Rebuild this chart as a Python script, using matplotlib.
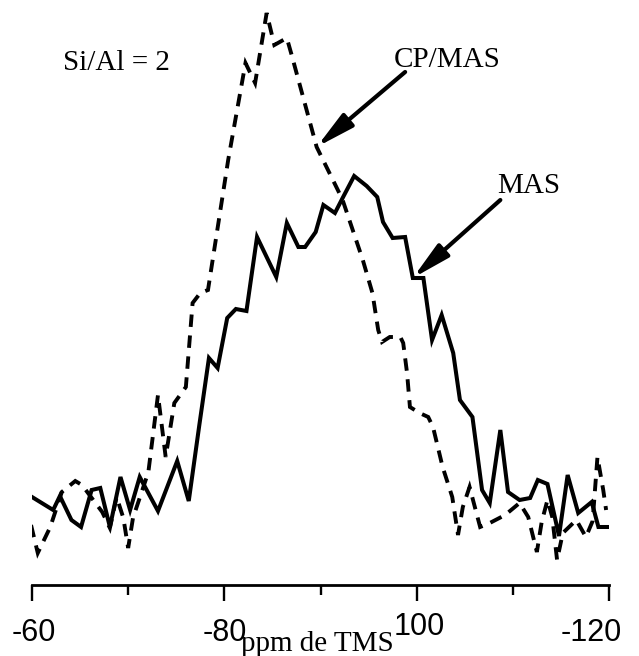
import numpy as np
import matplotlib
matplotlib.use('Agg')
import matplotlib.pyplot as plt
from matplotlib.transforms import ScaledTranslation

#######################################################
# 29Si NMR spectra, Si/Al = 2 (arbitrary units)
# MAS spectrum (solid line)
MAS_ppm = [-60.0, -62.2, -62.9, -64.1, -65.1, -66.2, -67.1, -68.1, -69.2, -70.2,
           -71.2, -73.1, -75.1, -76.3, -77.4, -78.4, -79.3, -80.3, -81.2, -82.3,
           -83.4, -85.4, -86.5, -87.7, -88.4, -89.5, -90.3, -91.5, -92.3, -93.5,
           -94.8, -95.9, -96.5, -97.5, -98.8, -99.6, -100.7, -101.6, -102.6, -103.8,
           -104.5, -105.8, -106.8, -107.6, -108.7, -109.5, -110.7, -111.8, -112.6, -113.6,
           -114.8, -115.7, -116.8, -118.2, -118.9, -119.8]
MAS_int = [88, 75, 89, 65, 58, 95, 97, 58, 108, 75,
           108, 74, 124, 84, 160, 227, 217, 267, 276, 274,
           348, 308, 362, 338, 338, 353, 380, 372, 387, 409,
           399, 388, 363, 347, 348, 307, 307, 245, 270, 232,
           185, 168, 95, 82, 155, 93, 85, 87, 105, 101,
           49, 110, 72, 83, 58, 58]

# CP/MAS spectrum (dashed line)
CP_ppm = [-59.9, -60.6, -61.9, -63.1, -64.5, -65.2, -67.3, -68.1, -68.8, -69.5,
          -70.0, -70.5, -72.1, -73.1, -73.9, -74.8, -76.0, -76.7, -77.5, -78.3,
          -80.4, -82.2, -83.2, -84.4, -85.2, -86.5, -87.0, -89.6, -91.8, -92.3,
          -94.4, -95.4, -96.0, -96.4, -97.2, -98.3, -98.6, -99.0, -99.3, -100.3,
          -101.2, -101.7, -102.7, -103.7, -104.3, -104.8, -105.5, -106.6, -107.6, -109.2,
          -110.7, -111.6, -112.5, -113.0, -113.6, -114.1, -114.6, -115.2, -116.6, -117.6,
          -118.3, -118.8, -119.4, -119.7]
CP_int = [60, 32, 58, 93, 104, 100, 73, 57, 88, 67,
          37, 67, 113, 190, 128, 182, 198, 282, 292, 295,
          425, 522, 502, 572, 540, 547, 530, 438, 395, 385,
          325, 292, 255, 243, 248, 248, 242, 212, 178, 172,
          168, 158, 118, 88, 50, 78, 98, 58, 62, 70,
          82, 68, 33, 63, 85, 68, 25, 52, 65, 48,
          64, 128, 95, 75]

Major_Ticks  = [-60, -80, -100, -120]
Major_Labels = ['-60', '-80', '100', '-120']
Minor_Ticks  = [-70, -90, -110]
#######################################################

SERIF = 'Liberation Serif'
SANS  = 'Liberation Sans'

fig = plt.figure(figsize=(6.39, 6.56), dpi=100)
ax = fig.add_axes([32/639, 71/656, 577/639, 585/656])

ax.plot(MAS_ppm, MAS_int, color='black', lw=2.9, solid_joinstyle='miter')
ax.plot(CP_ppm, CP_int, color='black', lw=2.8, linestyle=(0, (3.2, 2.2)),
        dash_joinstyle='miter')

ax.set_xlim(-60, -120)
ax.set_ylim(0, 585)

for side in ['left', 'top', 'right']:
    ax.spines[side].set_visible(False)
ax.spines['bottom'].set_linewidth(2.0)
ax.set_yticks([])

ax.set_xticks(Major_Ticks)
ax.set_xticklabels(Major_Labels, fontfamily=SANS, fontsize=22)
ax.set_xticks(Minor_Ticks, minor=True)
ax.tick_params(axis='x', which='major', direction='out', length=11.5, width=1.7, pad=12)
ax.tick_params(axis='x', which='minor', direction='out', length=7, width=1.7)

# the scanned labels are not quite centred on their ticks
labels = ax.get_xticklabels()
labels[0].set_transform(labels[0].get_transform() + ScaledTranslation(0.02, 0, fig.dpi_scale_trans))
labels[2].set_transform(labels[2].get_transform() + ScaledTranslation(0.03, 0.06, fig.dpi_scale_trans))
labels[3].set_transform(labels[3].get_transform() + ScaledTranslation(-0.18, 0, fig.dpi_scale_trans))

ax.text(0.494, -0.112, 'ppm de TMS', transform=ax.transAxes, ha='center', va='baseline',
        fontfamily=SERIF, fontsize=21)

# labels and arrows
ax.text(-68.8, 522, 'Si/Al = 2', ha='center', va='center', fontfamily=SERIF, fontsize=21)
ax.text(-103.2, 525, 'CP/MAS', ha='center', va='center', fontfamily=SERIF, fontsize=21)
ax.text(-111.6, 399, 'MAS', ha='center', va='center', fontfamily=SERIF, fontsize=21)

arrow = dict(arrowstyle='-|>,head_length=1.9,head_width=0.42', mutation_scale=12,
             lw=3, color='black', shrinkA=0, shrinkB=0)
ax.annotate('', xy=(-89.6, 438), xytext=(-98.8, 513), arrowprops=arrow)
ax.annotate('', xy=(-99.6, 307), xytext=(-108.7, 385), arrowprops=arrow)

fig.savefig('out.png', dpi=100)
